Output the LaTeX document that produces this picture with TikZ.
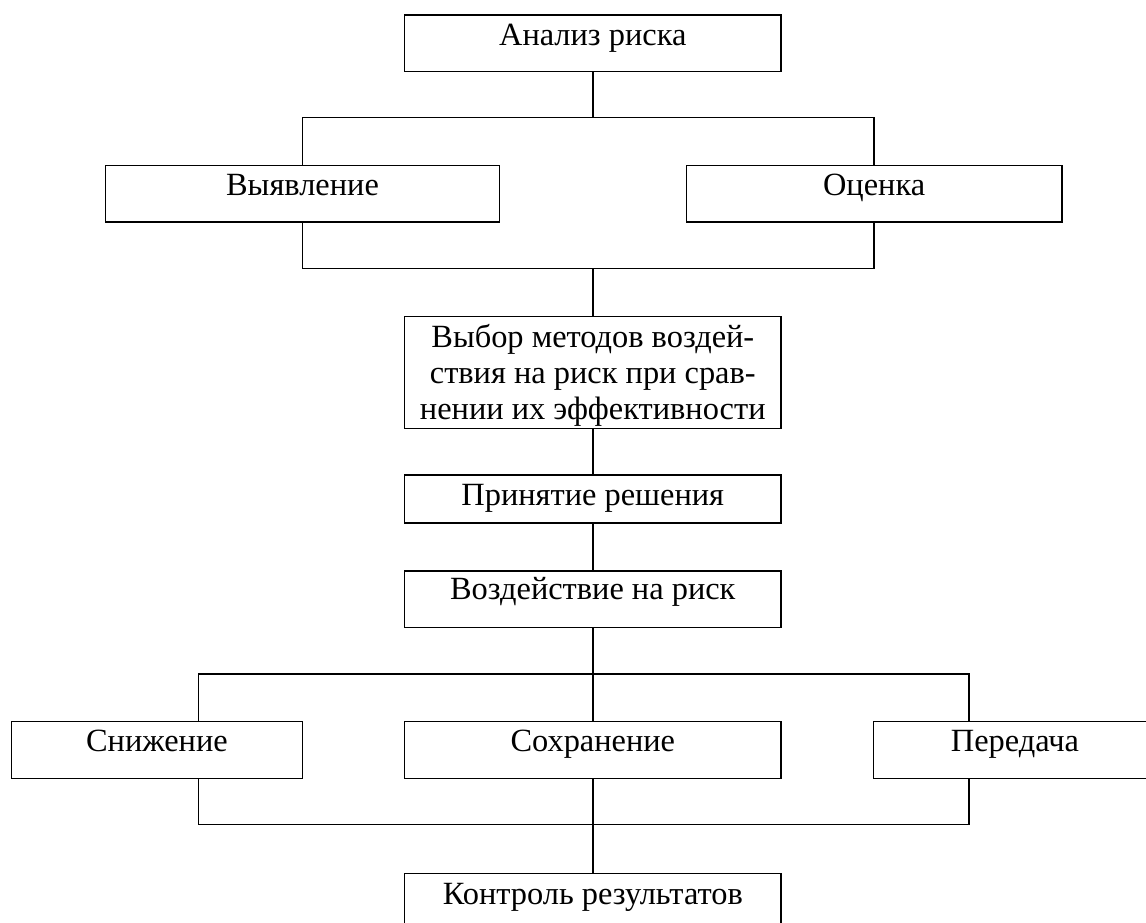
\documentclass[tikz,border=0pt]{standalone}
\usepackage{fontspec}
\setmainfont{Liberation Serif}
\begin{document}
\begin{tikzpicture}[x=0.75pt,y=0.75pt,yscale=-1,
  blok/.style={draw, rectangle, inner sep=0pt, line width=1.2pt, anchor=north, font=\fontsize{24.3}{27.1}\selectfont},
  odna/.style={blok, text height=22.7pt, text depth=19.9pt},
  liniya/.style={line width=1.2pt}]
\useasboundingbox (0,0) rectangle (1146,923);
\clip (0,0) rectangle (1146,923);

%Boxes
\node [odna, minimum width=282.5pt] (analiz) at (592.8,14) {Анализ риска};
\node [odna, minimum width=295.4pt] (vyyav) at (302.5,164.7) {Выявление};
\node [odna, minimum width=281.7pt] (ocenka) at (874.1,164.7) {Оценка};
\node [blok, minimum width=282.5pt, text height=77.5pt, text depth=6.5pt, align=center] (vybor) at (592.8,315.7) {Выбор методов воздей-\\ствия на риск при срав-\\нении их эффективности};
\node [blok, minimum width=282.5pt, text height=22.5pt, text depth=13.5pt] (prinyat) at (592.8,474.3) {Принятие решения};
\node [blok, minimum width=282.5pt, text height=21.8pt, text depth=20.7pt] (vozd) at (592.8,570) {Воздействие на риск};
\node [odna, minimum width=218.1pt] (snizh) at (156.9,720.7) {Снижение};
\node [odna, minimum width=282.5pt] (sohr) at (592.8,720.7) {Сохранение};
\node [odna, minimum width=212.3pt] (pered) at (1015,720.7) {Передача};
\node [blok, minimum width=282.5pt, text height=23.5pt, text depth=19.9pt] (kontrol) at (592.8,872.7) {Контроль результатов};

%Bus points
\coordinate (v1) at (302.5,117.7);
\coordinate (v2) at (874.1,117.7);
\coordinate (n1) at (302.5,268.7);
\coordinate (n2) at (874.1,268.7);
\coordinate (b1) at (198.6,673.7);
\coordinate (b3) at (968.8,673.7);
\coordinate (c1) at (198.6,824.3);
\coordinate (c3) at (968.8,824.3);

%Connectors
\draw [liniya] (analiz.south) -- (analiz.south |- v1);
\draw [liniya] (vyyav.north) -- (v1) -- (v2) -- (ocenka.north);
\draw [liniya] (vyyav.south) -- (n1) -- (n2) -- (ocenka.south);
\draw [liniya] (vybor.north) -- (vybor.north |- n1);
\draw [liniya] (vybor.south) -- (prinyat.north);
\draw [liniya] (prinyat.south) -- (vozd.north);
\draw [liniya] (vozd.south) -- (sohr.north);
\draw [liniya] (snizh.north -| b1) -- (b1) -- (b3) -- (pered.north -| b3);
\draw [liniya] (snizh.south -| c1) -- (c1) -- (c3) -- (pered.south -| c3);
\draw [liniya] (sohr.south) -- (kontrol.north);

\end{tikzpicture}
\end{document}
